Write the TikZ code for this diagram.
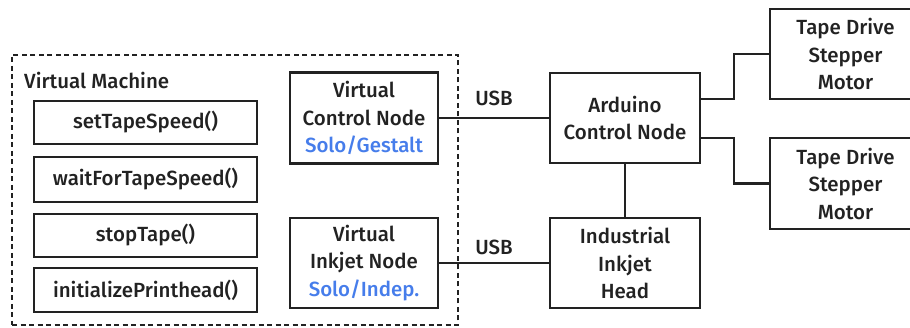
\documentclass[tikz,border=0pt]{standalone}
\usepackage{fontspec}
\setmainfont{Fira Sans Medium}
\usetikzlibrary{calc}
\definecolor{ink}{RGB}{34,34,34}
\definecolor{modeblue}{RGB}{70,125,235}
\tikzset{
  blk/.style={draw=ink, line width=2.6pt, text=ink, align=center, inner sep=0pt,
    font=\fontsize{20.5}{27.5}\selectfont},
  wire/.style={draw=ink, line width=2.2pt},
  tag/.style={text=ink, inner sep=0pt, font=\fontsize{20.5}{27.5}\selectfont},
}
\newcommand{\mode}[1]{\textcolor{modeblue}{#1}}
\begin{document}
\begin{tikzpicture}[x=1pt,y=-1pt]
\useasboundingbox (0,0) rectangle (910,328);
\fill[white] (0,0) rectangle (910,328);

% virtual machine frame
\node[draw=ink, line width=2.4pt, dash pattern=on 5pt off 3.5pt,
  minimum width=446pt, minimum height=270pt, inner sep=0pt] (vm) at (235,190) {};
\node[tag, anchor=west] (vmlabel) at (24,80) {Virtual Machine};

% function blocks
\node[blk, minimum width=223pt, minimum height=43pt] (f1) at (145.5,122.5) {setTapeSpeed()};
\node[blk, minimum width=223pt, minimum height=45pt] (f2) at (145.5,179.5) {waitForTapeSpeed()};
\node[blk, minimum width=223pt, minimum height=43pt] (f3) at (145.5,235.5) {stopTape()};
\node[blk, minimum width=223pt, minimum height=44pt] (f4) at (145.5,290) {initializePrinthead()};

% virtual nodes
\node[blk, minimum width=148pt, minimum height=91pt] (vcn) at (364,118)
  {Virtual\\Control Node\\\mode{Solo/Gestalt}};
\node[blk, minimum width=148pt, minimum height=90pt] (vin) at (364,263)
  {Virtual\\Inkjet Node\\\mode{Solo/Indep.}};

% hardware
\node[blk, minimum width=150pt, minimum height=90pt] (ard) at (625,118)
  {Arduino\\Control Node};
\node[blk, minimum width=150pt, minimum height=90pt] (head) at (625,263)
  {Industrial\\Inkjet\\Head};
\node[blk, minimum width=151pt, minimum height=90pt] (td1) at (845.5,54)
  {Tape Drive\\Stepper\\Motor};
\node[blk, minimum width=151pt, minimum height=91pt] (td2) at (845.5,183.5)
  {Tape Drive\\Stepper\\Motor};

% connections
\draw[wire] (vcn.east) -- (ard.west);
\draw[wire] (vin.east) -- (head.west);
\draw[wire] (ard.south) -- (head.north);
\draw[wire] ([yshift=19pt]ard.east) -- ++(33,0) |- (td1.west);
\draw[wire] ([yshift=-20pt]ard.east) -- ++(33,0) |- (td2.west);

\node[tag] (usb1) at (494,98) {USB};
\node[tag] (usb2) at (494,247) {USB};
\end{tikzpicture}
\end{document}
